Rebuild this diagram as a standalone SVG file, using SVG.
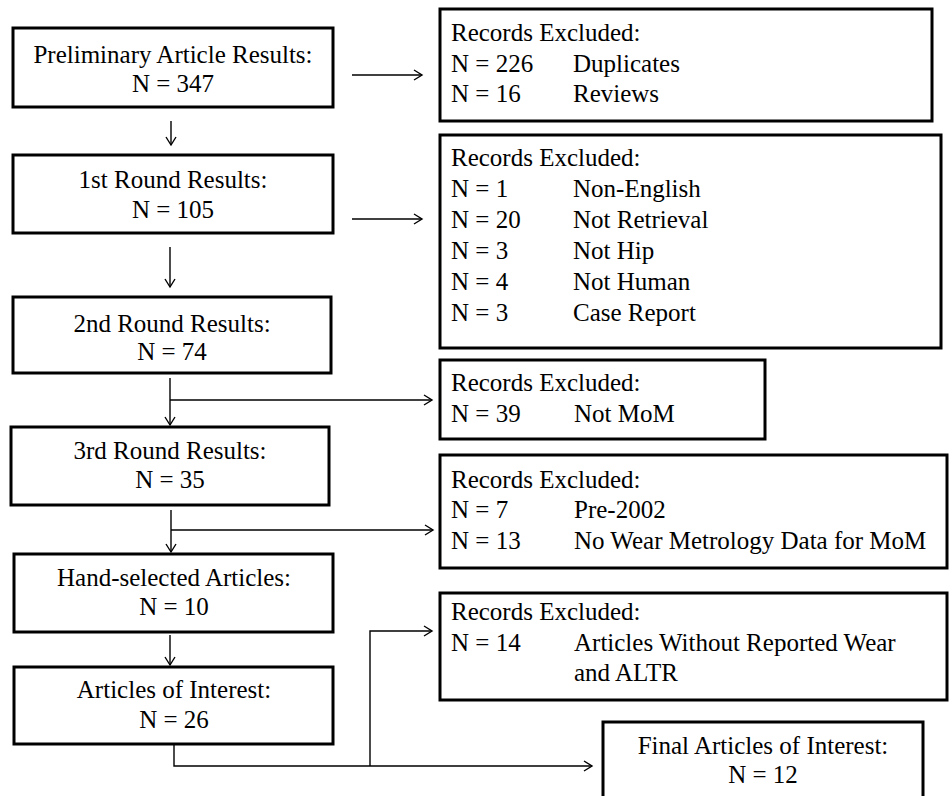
<svg xmlns="http://www.w3.org/2000/svg" width="952" height="796" viewBox="0 0 952 796">
<style>
.box{fill:#fff;stroke:#000;stroke-width:3}
.t{font-family:"Liberation Serif","Times New Roman",serif;font-size:25px;fill:#000}
.c{text-anchor:middle}
.ln{fill:none;stroke:#000;stroke-width:1.4}
</style>
<defs>
<marker id="ah" markerUnits="userSpaceOnUse" markerWidth="12" markerHeight="12" refX="9" refY="6" orient="auto">
<path d="M1,1 L9,6 L1,11" fill="none" stroke="#000" stroke-width="1.4"/>
</marker>
</defs>
<rect width="952" height="796" fill="#fff"/>
<g id="connectors">
<path class="ln" d="M352,75 H422" marker-end="url(#ah)"/>
<path class="ln" d="M171,121 V145" marker-end="url(#ah)"/>
<path class="ln" d="M352,219 H422" marker-end="url(#ah)"/>
<path class="ln" d="M170,247 V287" marker-end="url(#ah)"/>
<path class="ln" d="M170,378 V425" marker-end="url(#ah)"/>
<path class="ln" d="M170,400 H432" marker-end="url(#ah)"/>
<path class="ln" d="M171,510 V552" marker-end="url(#ah)"/>
<path class="ln" d="M171,530 H433" marker-end="url(#ah)"/>
<path class="ln" d="M170,635 V665" marker-end="url(#ah)"/>
<path class="ln" d="M174,744 V766 H592" marker-end="url(#ah)"/>
<path class="ln" d="M370,766 V631 H432" marker-end="url(#ah)"/>
</g>
<g id="prelim">
<rect class="box" x="13" y="28" width="320" height="79"/>
<text class="t c" x="173" y="63">Preliminary Article Results:</text>
<text class="t c" x="173" y="92">N = 347</text>
</g>
<g id="round1">
<rect class="box" x="13" y="155" width="320" height="78"/>
<text class="t c" x="173" y="188">1st Round Results:</text>
<text class="t c" x="173" y="218">N = 105</text>
</g>
<g id="round2">
<rect class="box" x="13" y="297" width="318" height="76"/>
<text class="t c" x="172" y="332">2nd Round Results:</text>
<text class="t c" x="172" y="360">N = 74</text>
</g>
<g id="round3">
<rect class="box" x="11" y="427" width="318" height="78"/>
<text class="t c" x="170" y="459">3rd Round Results:</text>
<text class="t c" x="170" y="488">N = 35</text>
</g>
<g id="hand">
<rect class="box" x="14" y="554" width="319" height="78"/>
<text class="t c" x="174" y="586">Hand-selected Articles:</text>
<text class="t c" x="174" y="615">N = 10</text>
</g>
<g id="interest">
<rect class="box" x="14" y="667" width="319" height="77"/>
<text class="t c" x="174" y="698">Articles of Interest:</text>
<text class="t c" x="174" y="728">N = 26</text>
</g>
<g id="excl1">
<rect class="box" x="440" y="9" width="492" height="112"/>
<text class="t" x="451" y="41">Records Excluded:</text>
<text class="t" x="451" y="72">N = 226</text><text class="t" x="573" y="72">Duplicates</text>
<text class="t" x="451" y="102">N = 16</text><text class="t" x="573" y="102">Reviews</text>
</g>
<g id="excl2">
<rect class="box" x="440" y="135" width="501" height="213"/>
<text class="t" x="451" y="166">Records Excluded:</text>
<text class="t" x="451" y="197">N = 1</text><text class="t" x="573" y="197">Non-English</text>
<text class="t" x="451" y="228">N = 20</text><text class="t" x="573" y="228">Not Retrieval</text>
<text class="t" x="451" y="259">N = 3</text><text class="t" x="573" y="259">Not Hip</text>
<text class="t" x="451" y="290">N = 4</text><text class="t" x="573" y="290">Not Human</text>
<text class="t" x="451" y="321">N = 3</text><text class="t" x="573" y="321">Case Report</text>
</g>
<g id="excl3">
<rect class="box" x="440" y="360" width="325" height="79"/>
<text class="t" x="451" y="391">Records Excluded:</text>
<text class="t" x="451" y="422">N = 39</text><text class="t" x="574" y="422">Not MoM</text>
</g>
<g id="excl4">
<rect class="box" x="440" y="455" width="507" height="113"/>
<text class="t" x="451" y="488">Records Excluded:</text>
<text class="t" x="451" y="518">N = 7</text><text class="t" x="574" y="518">Pre-2002</text>
<text class="t" x="451" y="549">N = 13</text><text class="t" x="574" y="549">No Wear Metrology Data for MoM</text>
</g>
<g id="excl5">
<rect class="box" x="440" y="593" width="507" height="107"/>
<text class="t" x="451" y="620">Records Excluded:</text>
<text class="t" x="451" y="651">N = 14</text><text class="t" x="574" y="651">Articles Without Reported Wear</text>
<text class="t" x="574" y="681">and ALTR</text>
</g>
<g id="final">
<rect class="box" x="603" y="722" width="320" height="80"/>
<text class="t c" x="763" y="754">Final Articles of Interest:</text>
<text class="t c" x="763" y="783">N = 12</text>
</g>
</svg>
